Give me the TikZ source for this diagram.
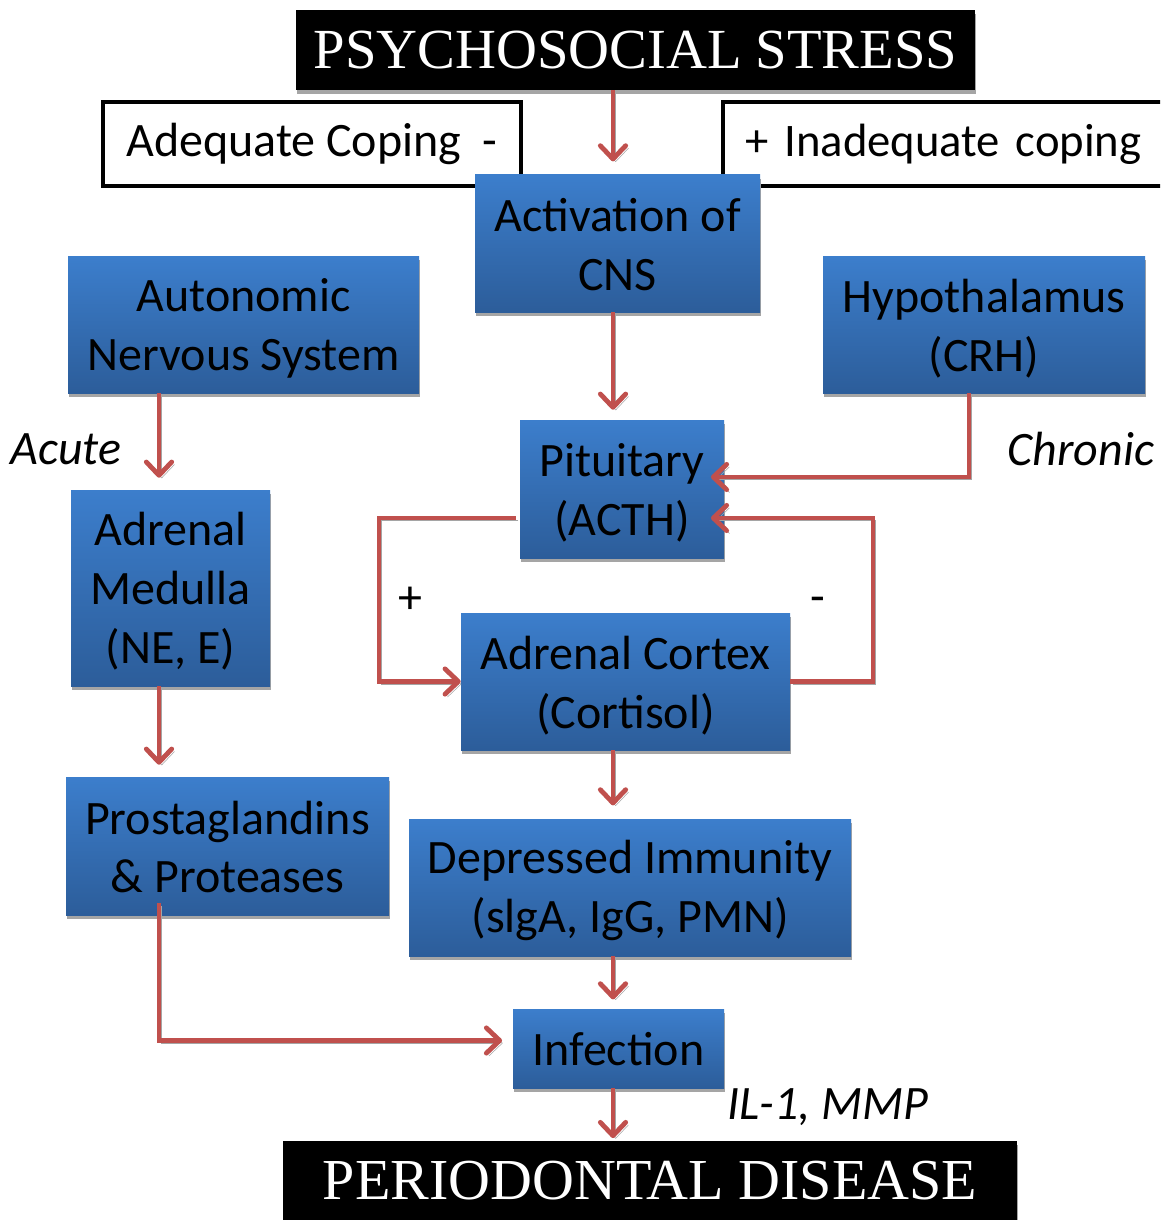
\documentclass[tikz,border=0pt]{standalone}
\usepackage{fontspec}
\setmainfont{Carlito}
\newfontfamily\ttlfont{Liberation Serif}
\usetikzlibrary{arrows.meta,calc,shadows}
\definecolor{boxtop}{RGB}{60,126,204}
\definecolor{boxbot}{RGB}{44,93,154}
\definecolor{arrred}{RGB}{192,80,77}
\definecolor{shgray}{RGB}{165,165,165}
\newcommand\bxfont{\fontsize{36}{44}\selectfont}
\begin{document}
\begin{tikzpicture}[x=0.75pt,y=-0.75pt,
  bluebox/.style={rectangle, inner sep=0pt, top color=boxtop, bottom color=boxbot,
    draw=none,
    drop shadow={shadow xshift=0.75pt, shadow yshift=-3.2pt, fill=shgray, opacity=1}},
  boxtext/.style={inner sep=0pt, align=center, font=\bxfont},
  blackbox/.style={rectangle, inner sep=0pt, fill=black, text=white,
    drop shadow={shadow xshift=0.75pt, shadow yshift=-3.2pt, fill=shgray, opacity=1}},
  copebox/.style={rectangle, inner sep=0pt, draw=black, line width=3pt, fill=white, font=\bxfont},
  arr/.style={draw=arrred, line width=3.6pt, -{Straight Barb[length=10pt,width=19pt,round]},
    preaction={draw=shgray, transform canvas={shift={(2pt,-2pt)}}}},
  lbl/.style={font=\bxfont\itshape, inner sep=0pt},
  sgn/.style={font=\bxfont, inner sep=0pt}
]
\useasboundingbox (0,0) rectangle (1160,1220);
\clip (0,0) rectangle (1160,1220);
\fill[white] (0,0) rectangle (1160,1220);

% helper coordinates for connector columns
\coordinate (mx) at (613,0);
\coordinate (lx) at (159,0);
\coordinate (hx) at (969,0);
\coordinate (rx) at (873,600);
\coordinate (px) at (379,600);

% coping boxes
\node[copebox, minimum width=418*0.75pt, minimum height=84*0.75pt] (adq) at (312,144) {Adequate Coping~~-};
\node[copebox, anchor=west, minimum height=84*0.75pt, text width=310pt, inner xsep=17pt, align=left, font=\fontsize{35}{44}\selectfont] (inadq) at (721,144) {+ Inadequate coping};

% title boxes
\node[blackbox, font=\ttlfont\fontsize{42.5}{48}\selectfont, minimum width=679*0.75pt, minimum height=80*0.75pt] (title) at (635.5,50) {PSYCHOSOCIAL STRESS};
\node[blackbox, font=\ttlfont\fontsize{43.5}{48}\selectfont, minimum width=734*0.75pt, minimum height=79*0.75pt] (pd) at (650,1180.5) {PERIODONTAL DISEASE};

% blue boxes
\node[bluebox, minimum width=285*0.75pt, minimum height=137*0.75pt] (cns) at (617.5,243.5) {};
\node[bluebox, minimum width=351*0.75pt, minimum height=137*0.75pt] (ans) at (243.5,324.5) {};
\node[bluebox, minimum width=322*0.75pt, minimum height=137*0.75pt] (hyp) at (984,324.5) {};
\node[bluebox, minimum width=204*0.75pt, minimum height=138*0.75pt] (pit) at (622,489) {};
\node[bluebox, minimum width=199*0.75pt, minimum height=196*0.75pt] (am) at (170.5,588) {};
\node[bluebox, minimum width=329*0.75pt, minimum height=137*0.75pt] (ac) at (625.5,681.5) {};
\node[bluebox, minimum width=323*0.75pt, minimum height=138*0.75pt] (pg) at (227.5,846) {};
\node[bluebox, minimum width=442*0.75pt, minimum height=137*0.75pt] (di) at (630,887.5) {};
\node[bluebox, minimum width=211*0.75pt, minimum height=79*0.75pt] (inf) at (618.5,1048.5) {};

% box texts
\node[boxtext] (cnst) at ($(cns)+(0,1)$) {Activation of\\CNS};
\node[boxtext] (anst) at ($(ans)+(0,4)$) {Autonomic\\Nervous System};
\node[boxtext] (hypt) at ($(hyp)+(0,4)$) {Hypothalamus\\(CRH)};
\node[boxtext] (pitt) at ($(pit)+(0,4)$) {Pituitary\\(ACTH)};
\node[boxtext] (amt) at ($(am)+(0,3)$) {Adrenal\\Medulla\\(NE, E)};
\node[boxtext] (act) at ($(ac)+(0,4)$) {Adrenal Cortex\\(Cortisol)};
\node[boxtext] (pgt) at ($(pg)+(0,1)$) {Prostaglandins\\\&~Proteases};
\node[boxtext] (dit) at ($(di)+(0,3)$) {Depressed Immunity\\(slgA, IgG, PMN)};
\node[boxtext] (inft) at ($(inf)+(0,1)$) {Infection};

% labels
\node[lbl] (acute) at (66,449) {Acute};
\node[lbl] (chronic) at (1081,449) {Chronic};
\node[lbl] (il) at (828,1107) {IL-1, MMP};
\node[sgn] (plus) at (410,600) {+};
\node[sgn] (minus) at (818,605) {-};

% connectors
\draw[arr, shorten >=10pt] (title.south -| mx) -- (cns.north -| mx);
\draw[arr, shorten >=7.5pt] (cns.south -| mx) -- (pit.north -| mx);
\draw[arr, shorten >=9pt] (ans.south -| lx) -- (am.north -| lx);
\draw[arr, shorten >=9pt] (am.south -| lx) -- (pg.north -| lx);
\draw[arr, shorten >=-10pt] (hyp.south -| hx) |- ($(pit.east)+(0,-12)$);
\draw[arr, shorten >=-10pt] (ac.east) -| (rx) |- ($(pit.east)+(0,29)$);
\draw[arr, shorten <=3pt] ($(pit.west)+(0,29)$) -| (px) |- (ac.west);
\draw[arr, shorten >=10pt] (ac.south -| mx) -- (di.north -| mx);
\draw[arr, shorten >=7pt] (di.south -| mx) -- (inf.north -| mx);
\draw[arr, shorten <=-9pt, shorten >=8pt] (pg.south -| lx) |- ($(inf.west)+(0,-8)$);
\draw[arr, shorten >=2pt] (inf.south -| mx) -- (pd.north -| mx);
\end{tikzpicture}
\end{document}
